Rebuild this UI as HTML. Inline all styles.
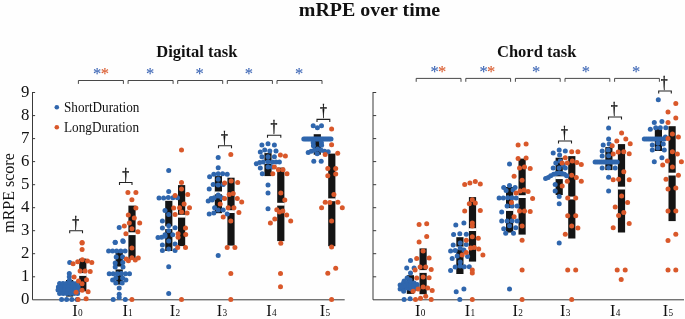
<!DOCTYPE html>
<html><head><meta charset="utf-8"><title>mRPE over time</title>
<style>html,body{margin:0;padding:0;background:#fefefe}</style></head>
<body>
<svg width="685" height="319" viewBox="0 0 685 319" style="display:block">
<rect width="685" height="319" fill="#fefefe"/>
<g font-family="'Liberation Serif', serif" fill="#111">
<text x="298.8" y="16.2" font-size="19.6" font-weight="bold" textLength="141.4" lengthAdjust="spacingAndGlyphs">mRPE over time</text>
<text x="196.8" y="57.4" font-size="16.5" font-weight="bold" text-anchor="middle">Digital task</text>
<text x="536.7" y="57.4" font-size="16.5" font-weight="bold" text-anchor="middle">Chord task</text>
<text transform="translate(13.9,193) rotate(-90)" font-size="16" text-anchor="middle">mRPE score</text>
<text x="29.4" y="303.9" font-size="16.8" text-anchor="end">0</text>
<text x="29.4" y="280.9" font-size="16.8" text-anchor="end">1</text>
<text x="29.4" y="257.8" font-size="16.8" text-anchor="end">2</text>
<text x="29.4" y="234.8" font-size="16.8" text-anchor="end">3</text>
<text x="29.4" y="211.8" font-size="16.8" text-anchor="end">4</text>
<text x="29.4" y="188.8" font-size="16.8" text-anchor="end">5</text>
<text x="29.4" y="165.7" font-size="16.8" text-anchor="end">6</text>
<text x="29.4" y="142.7" font-size="16.8" text-anchor="end">7</text>
<text x="29.4" y="119.7" font-size="16.8" text-anchor="end">8</text>
<text x="29.4" y="96.6" font-size="16.8" text-anchor="end">9</text>
<text x="64" y="111.5" font-size="13.8" textLength="75.4" lengthAdjust="spacingAndGlyphs">ShortDuration</text>
<text x="64" y="131.5" font-size="13.8" textLength="75" lengthAdjust="spacingAndGlyphs">LongDuration</text>
</g>
<circle cx="56.8" cy="107.2" r="2.3" fill="#2f66ad"/>
<circle cx="56.8" cy="127.3" r="2.3" fill="#d9582a"/>
<g stroke="#3a3a3a" stroke-width="1" fill="none">
<path d="M32.5 92.0V299.8H344.7"/>
<path d="M32.5 276.8h2.6"/>
<path d="M32.5 253.7h2.6"/>
<path d="M32.5 230.7h2.6"/>
<path d="M32.5 207.7h2.6"/>
<path d="M32.5 184.7h2.6"/>
<path d="M32.5 161.6h2.6"/>
<path d="M32.5 138.6h2.6"/>
<path d="M32.5 115.6h2.6"/>
<path d="M32.5 92.5h2.6"/>
</g>
<g font-family="'Liberation Serif', serif" fill="#111">
<text x="72.2" y="316.2" font-size="16.3">I<tspan font-size="9.3" dx="0.3">0</tspan></text>
<text x="122.4" y="316.2" font-size="16.3">I<tspan font-size="9.3" dx="0.3">1</tspan></text>
<text x="169.7" y="316.2" font-size="16.3">I<tspan font-size="9.3" dx="0.3">2</tspan></text>
<text x="216.7" y="316.2" font-size="16.3">I<tspan font-size="9.3" dx="0.3">3</tspan></text>
<text x="266.2" y="316.2" font-size="16.3">I<tspan font-size="9.3" dx="0.3">4</tspan></text>
<text x="319.7" y="316.2" font-size="16.3">I<tspan font-size="9.3" dx="0.3">5</tspan></text>
</g>
<g stroke="#333" stroke-width="0.9" fill="none">
<path d="M78.4 83.9V80.5H123.4V83.9"/>
<path d="M128.1 83.9V80.5H173.1V83.9"/>
<path d="M177.7 83.9V80.5H222.7V83.9"/>
<path d="M227.3 83.9V80.5H272.4V83.9"/>
<path d="M277.0 83.9V80.5H322.0V83.9"/>
</g>
<g font-family="'Liberation Serif', serif" font-size="16.5" text-anchor="middle" stroke-width="0.1">
<text x="97.0" y="79.4" fill="#3a64b4" stroke="#3a64b4">*</text>
<text x="104.8" y="79.4" fill="#d9582a" stroke="#d9582a">*</text>
<text x="150.0" y="79.4" fill="#3a64b4" stroke="#3a64b4">*</text>
<text x="199.5" y="79.4" fill="#3a64b4" stroke="#3a64b4">*</text>
<text x="248.8" y="79.4" fill="#3a64b4" stroke="#3a64b4">*</text>
<text x="299.0" y="79.4" fill="#3a64b4" stroke="#3a64b4">*</text>
</g>
<path d="M69.7 233.3V230.8H82.5V233.3" stroke="#222" stroke-width="1.1" fill="none"/>
<text transform="translate(75.8,227.8) scale(0.85,1)" font-family="'Liberation Serif', serif" font-size="16.2" stroke="#111" stroke-width="0.4" text-anchor="middle" fill="#111">†</text>
<path d="M119.5 185.0V182.5H132.0V185.0" stroke="#222" stroke-width="1.1" fill="none"/>
<text transform="translate(125.6,179.5) scale(0.85,1)" font-family="'Liberation Serif', serif" font-size="16.2" stroke="#111" stroke-width="0.4" text-anchor="middle" fill="#111">†</text>
<path d="M218.5 148.3V145.8H231.5V148.3" stroke="#222" stroke-width="1.1" fill="none"/>
<text transform="translate(224.5,142.8) scale(0.85,1)" font-family="'Liberation Serif', serif" font-size="16.2" stroke="#111" stroke-width="0.4" text-anchor="middle" fill="#111">†</text>
<path d="M267.5 137.8V135.3H280.8V137.8" stroke="#222" stroke-width="1.1" fill="none"/>
<text transform="translate(273.9,132.3) scale(0.85,1)" font-family="'Liberation Serif', serif" font-size="16.2" stroke="#111" stroke-width="0.4" text-anchor="middle" fill="#111">†</text>
<path d="M317.0 121.9V119.4H329.8V121.9" stroke="#222" stroke-width="1.1" fill="none"/>
<text transform="translate(323.4,116.4) scale(0.85,1)" font-family="'Liberation Serif', serif" font-size="16.2" stroke="#111" stroke-width="0.4" text-anchor="middle" fill="#111">†</text>
<rect x="66.0" y="280.0" width="7.2" height="16.6" fill="#141414"/>
<rect x="65.7" y="287.3" width="7.8" height="2.8" fill="#fff"/>
<rect x="79.2" y="258.6" width="7.2" height="32.7" fill="#141414"/>
<rect x="78.9" y="273.1" width="7.8" height="2.8" fill="#fff"/>
<rect x="115.6" y="252.1" width="7.2" height="32.5" fill="#141414"/>
<rect x="115.3" y="266.6" width="7.8" height="2.8" fill="#fff"/>
<rect x="128.4" y="205.6" width="7.2" height="54.4" fill="#141414"/>
<rect x="128.1" y="232.3" width="7.8" height="2.8" fill="#fff"/>
<rect x="165.2" y="200.8" width="7.2" height="50.2" fill="#141414"/>
<rect x="164.9" y="226.3" width="7.8" height="2.8" fill="#fff"/>
<rect x="178.0" y="185.1" width="7.2" height="61.0" fill="#141414"/>
<rect x="177.7" y="214.8" width="7.8" height="2.8" fill="#fff"/>
<rect x="214.8" y="176.1" width="7.2" height="37.1" fill="#141414"/>
<rect x="214.5" y="191.5" width="7.8" height="2.8" fill="#fff"/>
<rect x="227.4" y="177.7" width="7.2" height="67.9" fill="#141414"/>
<rect x="227.1" y="210.2" width="7.8" height="2.8" fill="#fff"/>
<rect x="264.4" y="153.1" width="7.2" height="23.0" fill="#141414"/>
<rect x="264.1" y="161.1" width="7.8" height="2.8" fill="#fff"/>
<rect x="277.2" y="167.6" width="7.2" height="73.5" fill="#141414"/>
<rect x="276.9" y="202.8" width="7.8" height="2.8" fill="#fff"/>
<rect x="313.7" y="134.2" width="7.2" height="20.5" fill="#141414"/>
<rect x="313.4" y="137.2" width="7.8" height="2.8" fill="#fff"/>
<rect x="328.2" y="153.6" width="7.2" height="92.6" fill="#141414"/>
<rect x="327.9" y="198.4" width="7.8" height="2.8" fill="#fff"/>
<g fill="#2f66ad">
<circle cx="69.7" cy="262.5" r="2.5"/>
<circle cx="69.3" cy="273.4" r="2.5"/>
<circle cx="69.3" cy="276.8" r="2.5"/>
<circle cx="69.4" cy="280.2" r="2.5"/>
<circle cx="59.6" cy="283.6" r="2.5"/>
<circle cx="63.0" cy="283.6" r="2.5"/>
<circle cx="66.4" cy="283.6" r="2.5"/>
<circle cx="69.8" cy="283.6" r="2.5"/>
<circle cx="73.2" cy="283.6" r="2.5"/>
<circle cx="76.6" cy="283.6" r="2.5"/>
<circle cx="58.4" cy="287.0" r="2.5"/>
<circle cx="61.7" cy="287.0" r="2.5"/>
<circle cx="65.0" cy="287.0" r="2.5"/>
<circle cx="68.3" cy="287.0" r="2.5"/>
<circle cx="71.6" cy="287.0" r="2.5"/>
<circle cx="74.9" cy="287.0" r="2.5"/>
<circle cx="78.2" cy="287.0" r="2.5"/>
<circle cx="58.0" cy="290.1" r="2.5"/>
<circle cx="61.4" cy="290.1" r="2.5"/>
<circle cx="64.8" cy="290.1" r="2.5"/>
<circle cx="68.2" cy="290.1" r="2.5"/>
<circle cx="71.6" cy="290.1" r="2.5"/>
<circle cx="75.0" cy="290.1" r="2.5"/>
<circle cx="78.4" cy="290.1" r="2.5"/>
<circle cx="59.6" cy="293.4" r="2.5"/>
<circle cx="63.2" cy="293.4" r="2.5"/>
<circle cx="66.8" cy="293.4" r="2.5"/>
<circle cx="70.4" cy="293.4" r="2.5"/>
<circle cx="74.0" cy="293.4" r="2.5"/>
<circle cx="77.6" cy="293.4" r="2.5"/>
<circle cx="61.6" cy="299.6" r="2.5"/>
<circle cx="66.6" cy="299.6" r="2.5"/>
<circle cx="71.8" cy="299.6" r="2.5"/>
<circle cx="77.1" cy="299.6" r="2.5"/>
</g>
<g fill="#d9582a">
<circle cx="82.3" cy="259.7" r="2.5"/>
<circle cx="82.1" cy="243.0" r="2.5"/>
<circle cx="82.1" cy="249.4" r="2.5"/>
<circle cx="73.1" cy="263.7" r="2.5"/>
<circle cx="77.7" cy="261.7" r="2.5"/>
<circle cx="87.5" cy="261.1" r="2.5"/>
<circle cx="91.8" cy="262.5" r="2.5"/>
<circle cx="80.1" cy="271.1" r="2.5"/>
<circle cx="85.1" cy="271.1" r="2.5"/>
<circle cx="90.2" cy="271.5" r="2.5"/>
<circle cx="74.1" cy="277.1" r="2.5"/>
<circle cx="78.5" cy="281.1" r="2.5"/>
<circle cx="86.5" cy="279.7" r="2.5"/>
<circle cx="82.1" cy="283.7" r="2.5"/>
<circle cx="76.1" cy="292.2" r="2.5"/>
<circle cx="82.1" cy="290.2" r="2.5"/>
<circle cx="88.1" cy="291.8" r="2.5"/>
<circle cx="78.1" cy="299.6" r="2.5"/>
<circle cx="86.1" cy="298.8" r="2.5"/>
<circle cx="82.1" cy="242.6" r="2.5"/>
</g>
<g fill="#2f66ad">
<circle cx="115.2" cy="242.4" r="2.5"/>
<circle cx="123.2" cy="241.6" r="2.5"/>
<circle cx="108.6" cy="251.0" r="2.5"/>
<circle cx="112.6" cy="251.0" r="2.5"/>
<circle cx="116.6" cy="251.0" r="2.5"/>
<circle cx="120.8" cy="251.0" r="2.5"/>
<circle cx="125.1" cy="251.0" r="2.5"/>
<circle cx="116.2" cy="257.1" r="2.5"/>
<circle cx="122.6" cy="257.1" r="2.5"/>
<circle cx="115.2" cy="263.1" r="2.5"/>
<circle cx="122.8" cy="262.5" r="2.5"/>
<circle cx="115.2" cy="267.1" r="2.5"/>
<circle cx="123.0" cy="267.1" r="2.5"/>
<circle cx="109.2" cy="273.7" r="2.5"/>
<circle cx="113.2" cy="273.7" r="2.5"/>
<circle cx="117.4" cy="273.7" r="2.5"/>
<circle cx="121.4" cy="273.5" r="2.5"/>
<circle cx="125.5" cy="273.7" r="2.5"/>
<circle cx="129.5" cy="273.7" r="2.5"/>
<circle cx="112.6" cy="280.1" r="2.5"/>
<circle cx="115.8" cy="278.1" r="2.5"/>
<circle cx="122.6" cy="278.1" r="2.5"/>
<circle cx="125.9" cy="280.1" r="2.5"/>
<circle cx="115.8" cy="283.1" r="2.5"/>
<circle cx="122.2" cy="283.1" r="2.5"/>
<circle cx="119.2" cy="288.1" r="2.5"/>
<circle cx="119.2" cy="294.2" r="2.5"/>
<circle cx="113.2" cy="299.6" r="2.5"/>
<circle cx="119.2" cy="297.6" r="2.5"/>
<circle cx="125.3" cy="299.6" r="2.5"/>
<circle cx="119.2" cy="227.5" r="2.5"/>
<circle cx="115.2" cy="242.2" r="2.5"/>
<circle cx="122.8" cy="240.8" r="2.5"/>
</g>
<g fill="#d9582a">
<circle cx="128.4" cy="260.8" r="2.5"/>
<circle cx="131.9" cy="299.6" r="2.5"/>
<circle cx="126.3" cy="259.1" r="2.5"/>
<circle cx="131.9" cy="257.7" r="2.5"/>
<circle cx="131.9" cy="248.0" r="2.5"/>
<circle cx="135.3" cy="260.1" r="2.5"/>
<circle cx="138.3" cy="258.1" r="2.5"/>
<circle cx="127.9" cy="192.4" r="2.5"/>
<circle cx="135.9" cy="192.4" r="2.5"/>
<circle cx="131.9" cy="199.7" r="2.5"/>
<circle cx="135.9" cy="208.1" r="2.5"/>
<circle cx="128.3" cy="215.1" r="2.5"/>
<circle cx="134.3" cy="218.1" r="2.5"/>
<circle cx="139.7" cy="223.1" r="2.5"/>
<circle cx="129.3" cy="223.1" r="2.5"/>
<circle cx="124.3" cy="226.1" r="2.5"/>
<circle cx="131.9" cy="228.7" r="2.5"/>
<circle cx="137.9" cy="231.8" r="2.5"/>
<circle cx="125.9" cy="233.8" r="2.5"/>
</g>
<g fill="#2f66ad">
<circle cx="168.7" cy="170.4" r="2.5"/>
<circle cx="168.7" cy="191.6" r="2.5"/>
<circle cx="159.0" cy="198.1" r="2.5"/>
<circle cx="163.6" cy="197.9" r="2.5"/>
<circle cx="168.3" cy="197.5" r="2.5"/>
<circle cx="172.9" cy="197.7" r="2.5"/>
<circle cx="177.5" cy="197.7" r="2.5"/>
<circle cx="165.0" cy="210.5" r="2.5"/>
<circle cx="168.7" cy="214.5" r="2.5"/>
<circle cx="162.4" cy="221.1" r="2.5"/>
<circle cx="168.7" cy="225.7" r="2.5"/>
<circle cx="162.4" cy="228.1" r="2.5"/>
<circle cx="175.1" cy="227.7" r="2.5"/>
<circle cx="168.7" cy="230.8" r="2.5"/>
<circle cx="165.0" cy="234.8" r="2.5"/>
<circle cx="172.7" cy="234.8" r="2.5"/>
<circle cx="158.0" cy="237.6" r="2.5"/>
<circle cx="161.6" cy="237.2" r="2.5"/>
<circle cx="165.0" cy="236.2" r="2.5"/>
<circle cx="168.7" cy="241.0" r="2.5"/>
<circle cx="162.4" cy="245.0" r="2.5"/>
<circle cx="175.1" cy="244.0" r="2.5"/>
<circle cx="168.7" cy="249.0" r="2.5"/>
<circle cx="162.4" cy="250.4" r="2.5"/>
<circle cx="175.1" cy="250.4" r="2.5"/>
<circle cx="168.7" cy="266.7" r="2.5"/>
<circle cx="168.7" cy="293.6" r="2.5"/>
</g>
<g fill="#d9582a">
<circle cx="181.5" cy="150.1" r="2.5"/>
<circle cx="181.5" cy="182.4" r="2.5"/>
<circle cx="181.5" cy="189.0" r="2.5"/>
<circle cx="175.1" cy="195.6" r="2.5"/>
<circle cx="187.7" cy="194.4" r="2.5"/>
<circle cx="184.1" cy="204.1" r="2.5"/>
<circle cx="173.7" cy="208.1" r="2.5"/>
<circle cx="179.5" cy="207.7" r="2.5"/>
<circle cx="189.5" cy="207.7" r="2.5"/>
<circle cx="175.1" cy="214.5" r="2.5"/>
<circle cx="181.5" cy="212.1" r="2.5"/>
<circle cx="187.1" cy="213.1" r="2.5"/>
<circle cx="185.5" cy="228.1" r="2.5"/>
<circle cx="178.1" cy="233.8" r="2.5"/>
<circle cx="185.7" cy="234.6" r="2.5"/>
<circle cx="178.1" cy="237.2" r="2.5"/>
<circle cx="177.7" cy="247.6" r="2.5"/>
<circle cx="185.5" cy="247.6" r="2.5"/>
<circle cx="181.5" cy="299.6" r="2.5"/>
</g>
<g fill="#2f66ad">
<circle cx="218.2" cy="157.5" r="2.5"/>
<circle cx="218.2" cy="167.7" r="2.5"/>
<circle cx="209.6" cy="176.8" r="2.5"/>
<circle cx="213.8" cy="174.2" r="2.5"/>
<circle cx="218.2" cy="173.8" r="2.5"/>
<circle cx="222.6" cy="173.8" r="2.5"/>
<circle cx="227.2" cy="174.2" r="2.5"/>
<circle cx="218.2" cy="179.2" r="2.5"/>
<circle cx="213.2" cy="184.4" r="2.5"/>
<circle cx="218.2" cy="185.0" r="2.5"/>
<circle cx="223.2" cy="184.4" r="2.5"/>
<circle cx="209.2" cy="189.0" r="2.5"/>
<circle cx="218.2" cy="195.0" r="2.5"/>
<circle cx="211.2" cy="198.5" r="2.5"/>
<circle cx="214.2" cy="197.7" r="2.5"/>
<circle cx="218.2" cy="196.0" r="2.5"/>
<circle cx="221.8" cy="197.7" r="2.5"/>
<circle cx="208.2" cy="201.1" r="2.5"/>
<circle cx="212.2" cy="200.1" r="2.5"/>
<circle cx="214.6" cy="207.7" r="2.5"/>
<circle cx="218.2" cy="210.1" r="2.5"/>
<circle cx="223.2" cy="210.1" r="2.5"/>
<circle cx="209.2" cy="214.1" r="2.5"/>
<circle cx="213.8" cy="213.1" r="2.5"/>
<circle cx="227.2" cy="214.1" r="2.5"/>
<circle cx="218.2" cy="255.6" r="2.5"/>
</g>
<g fill="#d9582a">
<circle cx="230.8" cy="154.5" r="2.5"/>
<circle cx="224.6" cy="183.0" r="2.5"/>
<circle cx="231.2" cy="181.0" r="2.5"/>
<circle cx="237.7" cy="182.4" r="2.5"/>
<circle cx="229.2" cy="194.4" r="2.5"/>
<circle cx="233.2" cy="193.6" r="2.5"/>
<circle cx="224.6" cy="198.5" r="2.5"/>
<circle cx="237.3" cy="198.5" r="2.5"/>
<circle cx="241.7" cy="202.1" r="2.5"/>
<circle cx="220.2" cy="204.1" r="2.5"/>
<circle cx="228.2" cy="207.7" r="2.5"/>
<circle cx="233.9" cy="207.7" r="2.5"/>
<circle cx="238.9" cy="212.5" r="2.5"/>
<circle cx="223.2" cy="217.1" r="2.5"/>
<circle cx="230.8" cy="221.1" r="2.5"/>
<circle cx="227.2" cy="247.6" r="2.5"/>
<circle cx="234.9" cy="247.6" r="2.5"/>
<circle cx="230.8" cy="273.5" r="2.5"/>
<circle cx="230.8" cy="299.6" r="2.5"/>
</g>
<g fill="#2f66ad">
<circle cx="261.9" cy="145.1" r="2.5"/>
<circle cx="268.0" cy="143.7" r="2.5"/>
<circle cx="274.4" cy="145.1" r="2.5"/>
<circle cx="260.3" cy="152.1" r="2.5"/>
<circle cx="264.7" cy="150.1" r="2.5"/>
<circle cx="269.8" cy="151.1" r="2.5"/>
<circle cx="276.0" cy="151.1" r="2.5"/>
<circle cx="261.9" cy="156.7" r="2.5"/>
<circle cx="268.0" cy="156.7" r="2.5"/>
<circle cx="274.4" cy="156.7" r="2.5"/>
<circle cx="256.3" cy="163.7" r="2.5"/>
<circle cx="259.7" cy="162.5" r="2.5"/>
<circle cx="263.3" cy="162.1" r="2.5"/>
<circle cx="268.0" cy="161.7" r="2.5"/>
<circle cx="272.4" cy="162.1" r="2.5"/>
<circle cx="276.0" cy="162.1" r="2.5"/>
<circle cx="279.4" cy="162.1" r="2.5"/>
<circle cx="260.3" cy="168.1" r="2.5"/>
<circle cx="268.0" cy="167.1" r="2.5"/>
<circle cx="272.4" cy="167.1" r="2.5"/>
<circle cx="262.3" cy="173.8" r="2.5"/>
<circle cx="268.0" cy="185.0" r="2.5"/>
<circle cx="268.0" cy="193.0" r="2.5"/>
<circle cx="268.0" cy="208.7" r="2.5"/>
</g>
<g fill="#d9582a">
<circle cx="280.4" cy="155.1" r="2.5"/>
<circle cx="285.4" cy="156.1" r="2.5"/>
<circle cx="274.4" cy="167.1" r="2.5"/>
<circle cx="278.4" cy="169.7" r="2.5"/>
<circle cx="283.0" cy="169.7" r="2.5"/>
<circle cx="272.8" cy="173.8" r="2.5"/>
<circle cx="287.0" cy="173.8" r="2.5"/>
<circle cx="280.8" cy="193.0" r="2.5"/>
<circle cx="284.8" cy="200.1" r="2.5"/>
<circle cx="276.8" cy="209.7" r="2.5"/>
<circle cx="279.4" cy="212.1" r="2.5"/>
<circle cx="282.8" cy="211.1" r="2.5"/>
<circle cx="274.8" cy="219.1" r="2.5"/>
<circle cx="270.4" cy="223.1" r="2.5"/>
<circle cx="280.8" cy="243.2" r="2.5"/>
<circle cx="286.7" cy="215.0" r="2.5"/>
<circle cx="290.7" cy="221.0" r="2.5"/>
<circle cx="280.5" cy="273.5" r="2.5"/>
<circle cx="280.5" cy="286.7" r="2.5"/>
</g>
<g fill="#2f66ad">
<circle cx="313.2" cy="125.7" r="2.5"/>
<circle cx="317.4" cy="127.7" r="2.5"/>
<circle cx="321.5" cy="125.7" r="2.5"/>
<circle cx="303.8" cy="139.1" r="2.5"/>
<circle cx="305.4" cy="139.1" r="2.5"/>
<circle cx="307.0" cy="139.1" r="2.5"/>
<circle cx="308.6" cy="139.1" r="2.5"/>
<circle cx="310.2" cy="139.1" r="2.5"/>
<circle cx="311.8" cy="139.1" r="2.5"/>
<circle cx="313.4" cy="139.1" r="2.5"/>
<circle cx="315.0" cy="139.1" r="2.5"/>
<circle cx="316.6" cy="139.1" r="2.5"/>
<circle cx="318.2" cy="139.1" r="2.5"/>
<circle cx="319.8" cy="139.1" r="2.5"/>
<circle cx="321.4" cy="139.1" r="2.5"/>
<circle cx="323.0" cy="139.1" r="2.5"/>
<circle cx="324.6" cy="139.1" r="2.5"/>
<circle cx="326.2" cy="139.1" r="2.5"/>
<circle cx="327.8" cy="139.1" r="2.5"/>
<circle cx="329.4" cy="139.1" r="2.5"/>
<circle cx="331.0" cy="139.1" r="2.5"/>
<circle cx="308.2" cy="152.6" r="2.5"/>
<circle cx="311.2" cy="151.2" r="2.5"/>
<circle cx="314.2" cy="150.2" r="2.5"/>
<circle cx="317.6" cy="149.1" r="2.5"/>
<circle cx="321.2" cy="150.2" r="2.5"/>
<circle cx="324.6" cy="151.2" r="2.5"/>
<circle cx="328.2" cy="151.8" r="2.5"/>
<circle cx="317.2" cy="153.8" r="2.5"/>
<circle cx="313.8" cy="161.2" r="2.5"/>
<circle cx="321.2" cy="161.2" r="2.5"/>
<circle cx="313.2" cy="142.8" r="2.5"/>
<circle cx="321.4" cy="142.8" r="2.5"/>
<circle cx="313.4" cy="145.8" r="2.5"/>
<circle cx="321.6" cy="145.2" r="2.5"/>
</g>
<g fill="#d9582a">
<circle cx="331.6" cy="129.1" r="2.5"/>
<circle cx="331.6" cy="144.7" r="2.5"/>
<circle cx="337.7" cy="153.2" r="2.5"/>
<circle cx="325.2" cy="154.6" r="2.5"/>
<circle cx="327.8" cy="168.5" r="2.5"/>
<circle cx="335.7" cy="168.5" r="2.5"/>
<circle cx="327.8" cy="175.7" r="2.5"/>
<circle cx="335.7" cy="174.1" r="2.5"/>
<circle cx="333.9" cy="194.5" r="2.5"/>
<circle cx="325.2" cy="202.2" r="2.5"/>
<circle cx="329.8" cy="202.6" r="2.5"/>
<circle cx="337.9" cy="202.2" r="2.5"/>
<circle cx="321.6" cy="207.8" r="2.5"/>
<circle cx="342.3" cy="207.8" r="2.5"/>
<circle cx="331.6" cy="221.0" r="2.5"/>
<circle cx="331.6" cy="247.1" r="2.5"/>
<circle cx="335.7" cy="268.2" r="2.5"/>
<circle cx="327.8" cy="273.2" r="2.5"/>
<circle cx="331.6" cy="299.5" r="2.5"/>
</g>
<g stroke="#3a3a3a" stroke-width="1" fill="none">
<path d="M373.0 92.0V299.8H684"/>
<path d="M373.0 276.8h3.2"/>
<path d="M373.0 253.7h3.2"/>
<path d="M373.0 230.7h3.2"/>
<path d="M373.0 207.7h3.2"/>
<path d="M373.0 184.7h3.2"/>
<path d="M373.0 161.6h3.2"/>
<path d="M373.0 138.6h3.2"/>
<path d="M373.0 115.6h3.2"/>
<path d="M373.0 92.5h3.2"/>
</g>
<g font-family="'Liberation Serif', serif" fill="#111">
<text x="415.1" y="316.2" font-size="16.3">I<tspan font-size="9.3" dx="0.3">0</tspan></text>
<text x="464.8" y="316.2" font-size="16.3">I<tspan font-size="9.3" dx="0.3">1</tspan></text>
<text x="512.6" y="316.2" font-size="16.3">I<tspan font-size="9.3" dx="0.3">2</tspan></text>
<text x="560.0" y="316.2" font-size="16.3">I<tspan font-size="9.3" dx="0.3">3</tspan></text>
<text x="610.0" y="316.2" font-size="16.3">I<tspan font-size="9.3" dx="0.3">4</tspan></text>
<text x="662.8" y="316.2" font-size="16.3">I<tspan font-size="9.3" dx="0.3">5</tspan></text>
</g>
<g stroke="#333" stroke-width="0.9" fill="none">
<path d="M416.2 81.8V78.4H461.0V81.8"/>
<path d="M465.8 81.8V78.4H510.6V81.8"/>
<path d="M515.4 81.8V78.4H560.2V81.8"/>
<path d="M565.0 81.8V78.4H609.8V81.8"/>
<path d="M614.6 81.8V78.4H659.4V81.8"/>
</g>
<g font-family="'Liberation Serif', serif" font-size="16.5" text-anchor="middle" stroke-width="0.1">
<text x="434.7" y="77.4" fill="#3a64b4" stroke="#3a64b4">*</text>
<text x="442.2" y="77.4" fill="#d9582a" stroke="#d9582a">*</text>
<text x="483.7" y="77.4" fill="#3a64b4" stroke="#3a64b4">*</text>
<text x="491.2" y="77.4" fill="#d9582a" stroke="#d9582a">*</text>
<text x="536.1" y="77.4" fill="#3a64b4" stroke="#3a64b4">*</text>
<text x="585.9" y="77.4" fill="#3a64b4" stroke="#3a64b4">*</text>
<text x="636.1" y="77.4" fill="#3a64b4" stroke="#3a64b4">*</text>
</g>
<path d="M558.5 143.5V141.0H571.5V143.5" stroke="#222" stroke-width="1.1" fill="none"/>
<text transform="translate(564.5,138.0) scale(0.85,1)" font-family="'Liberation Serif', serif" font-size="16.2" stroke="#111" stroke-width="0.4" text-anchor="middle" fill="#111">†</text>
<path d="M608.5 119.5V117.0H621.5V119.5" stroke="#222" stroke-width="1.1" fill="none"/>
<text transform="translate(614.3,114.0) scale(0.85,1)" font-family="'Liberation Serif', serif" font-size="16.2" stroke="#111" stroke-width="0.4" text-anchor="middle" fill="#111">†</text>
<path d="M658.7 93.5V91.0H671.3V93.5" stroke="#222" stroke-width="1.1" fill="none"/>
<text transform="translate(664.3,88.0) scale(0.85,1)" font-family="'Liberation Serif', serif" font-size="16.2" stroke="#111" stroke-width="0.4" text-anchor="middle" fill="#111">†</text>
<rect x="406.8" y="275.2" width="7.2" height="18.7" fill="#141414"/>
<rect x="406.5" y="285.7" width="7.8" height="2.8" fill="#fff"/>
<rect x="419.5" y="248.4" width="7.2" height="45.8" fill="#141414"/>
<rect x="419.2" y="270.1" width="7.8" height="2.8" fill="#fff"/>
<rect x="456.3" y="237.2" width="7.2" height="36.8" fill="#141414"/>
<rect x="456.0" y="246.6" width="7.8" height="2.8" fill="#fff"/>
<rect x="468.9" y="197.1" width="7.2" height="64.5" fill="#141414"/>
<rect x="468.6" y="228.2" width="7.8" height="2.8" fill="#fff"/>
<rect x="506.0" y="187.0" width="7.2" height="45.6" fill="#141414"/>
<rect x="505.7" y="208.1" width="7.8" height="2.8" fill="#fff"/>
<rect x="518.5" y="158.6" width="7.2" height="76.0" fill="#141414"/>
<rect x="518.2" y="195.2" width="7.8" height="2.8" fill="#fff"/>
<rect x="555.6" y="157.7" width="7.2" height="37.3" fill="#141414"/>
<rect x="555.3" y="176.3" width="7.8" height="2.8" fill="#fff"/>
<rect x="568.2" y="156.1" width="7.2" height="82.4" fill="#141414"/>
<rect x="567.9" y="196.6" width="7.8" height="2.8" fill="#fff"/>
<rect x="605.3" y="147.1" width="7.2" height="23.0" fill="#141414"/>
<rect x="605.0" y="160.7" width="7.8" height="2.8" fill="#fff"/>
<rect x="617.9" y="144.1" width="7.2" height="88.4" fill="#141414"/>
<rect x="617.6" y="186.7" width="7.8" height="2.8" fill="#fff"/>
<rect x="654.8" y="128.2" width="7.2" height="22.8" fill="#141414"/>
<rect x="654.5" y="137.7" width="7.8" height="2.8" fill="#fff"/>
<rect x="668.5" y="126.2" width="7.2" height="94.9" fill="#141414"/>
<rect x="668.2" y="172.7" width="7.8" height="2.8" fill="#fff"/>
<g fill="#2f66ad">
<circle cx="410.5" cy="260.5" r="2.5"/>
<circle cx="406.7" cy="268.1" r="2.5"/>
<circle cx="414.1" cy="268.1" r="2.5"/>
<circle cx="410.5" cy="273.1" r="2.5"/>
<circle cx="407.1" cy="278.1" r="2.5"/>
<circle cx="404.1" cy="281.1" r="2.5"/>
<circle cx="410.1" cy="280.1" r="2.5"/>
<circle cx="400.1" cy="285.1" r="2.5"/>
<circle cx="403.5" cy="283.1" r="2.5"/>
<circle cx="407.1" cy="282.5" r="2.5"/>
<circle cx="410.5" cy="283.1" r="2.5"/>
<circle cx="414.1" cy="283.1" r="2.5"/>
<circle cx="417.1" cy="284.5" r="2.5"/>
<circle cx="400.1" cy="289.1" r="2.5"/>
<circle cx="403.5" cy="288.1" r="2.5"/>
<circle cx="407.1" cy="288.1" r="2.5"/>
<circle cx="410.5" cy="288.7" r="2.5"/>
<circle cx="414.1" cy="289.1" r="2.5"/>
<circle cx="404.1" cy="299.6" r="2.5"/>
<circle cx="410.1" cy="298.8" r="2.5"/>
<circle cx="407.1" cy="285.1" r="2.5"/>
<circle cx="410.5" cy="285.7" r="2.5"/>
<circle cx="404.1" cy="285.7" r="2.5"/>
<circle cx="413.7" cy="286.1" r="2.5"/>
<circle cx="417.1" cy="288.1" r="2.5"/>
<circle cx="401.7" cy="287.1" r="2.5"/>
<circle cx="403.7" cy="291.2" r="2.5"/>
</g>
<g fill="#d9582a">
<circle cx="419.1" cy="242.0" r="2.5"/>
<circle cx="423.1" cy="251.0" r="2.5"/>
<circle cx="416.7" cy="258.5" r="2.5"/>
<circle cx="429.1" cy="258.1" r="2.5"/>
<circle cx="420.1" cy="267.1" r="2.5"/>
<circle cx="425.7" cy="267.1" r="2.5"/>
<circle cx="415.1" cy="270.1" r="2.5"/>
<circle cx="431.2" cy="269.5" r="2.5"/>
<circle cx="416.7" cy="278.1" r="2.5"/>
<circle cx="423.1" cy="277.1" r="2.5"/>
<circle cx="429.1" cy="277.7" r="2.5"/>
<circle cx="423.1" cy="287.1" r="2.5"/>
<circle cx="418.1" cy="289.1" r="2.5"/>
<circle cx="427.7" cy="288.1" r="2.5"/>
<circle cx="413.1" cy="291.2" r="2.5"/>
<circle cx="432.2" cy="290.6" r="2.5"/>
<circle cx="415.5" cy="299.6" r="2.5"/>
<circle cx="420.5" cy="298.2" r="2.5"/>
<circle cx="425.7" cy="296.2" r="2.5"/>
<circle cx="431.2" cy="299.6" r="2.5"/>
<circle cx="419.1" cy="224.5" r="2.5"/>
<circle cx="426.7" cy="223.7" r="2.5"/>
<circle cx="426.7" cy="236.6" r="2.5"/>
</g>
<g fill="#2f66ad">
<circle cx="453.2" cy="245.0" r="2.5"/>
<circle cx="460.2" cy="243.0" r="2.5"/>
<circle cx="466.3" cy="244.4" r="2.5"/>
<circle cx="450.6" cy="251.0" r="2.5"/>
<circle cx="455.2" cy="250.4" r="2.5"/>
<circle cx="460.2" cy="248.0" r="2.5"/>
<circle cx="457.2" cy="256.0" r="2.5"/>
<circle cx="452.2" cy="258.5" r="2.5"/>
<circle cx="460.2" cy="262.1" r="2.5"/>
<circle cx="455.2" cy="267.1" r="2.5"/>
<circle cx="460.2" cy="266.1" r="2.5"/>
<circle cx="464.3" cy="266.7" r="2.5"/>
<circle cx="469.3" cy="266.7" r="2.5"/>
<circle cx="450.6" cy="270.5" r="2.5"/>
<circle cx="456.2" cy="291.8" r="2.5"/>
<circle cx="463.9" cy="289.1" r="2.5"/>
<circle cx="459.8" cy="299.6" r="2.5"/>
<circle cx="455.8" cy="225.1" r="2.5"/>
<circle cx="463.9" cy="223.1" r="2.5"/>
<circle cx="453.6" cy="234.6" r="2.5"/>
<circle cx="459.8" cy="233.8" r="2.5"/>
<circle cx="466.3" cy="234.2" r="2.5"/>
<circle cx="463.9" cy="250.1" r="2.5"/>
<circle cx="467.6" cy="256.4" r="2.5"/>
</g>
<g fill="#d9582a">
<circle cx="470.7" cy="248.0" r="2.5"/>
<circle cx="474.3" cy="247.6" r="2.5"/>
<circle cx="478.7" cy="249.0" r="2.5"/>
<circle cx="466.3" cy="252.4" r="2.5"/>
<circle cx="462.2" cy="255.0" r="2.5"/>
<circle cx="482.9" cy="255.0" r="2.5"/>
<circle cx="472.3" cy="270.1" r="2.5"/>
<circle cx="472.3" cy="273.1" r="2.5"/>
<circle cx="472.3" cy="299.6" r="2.5"/>
<circle cx="464.7" cy="184.4" r="2.5"/>
<circle cx="469.9" cy="183.0" r="2.5"/>
<circle cx="475.3" cy="181.6" r="2.5"/>
<circle cx="480.3" cy="184.0" r="2.5"/>
<circle cx="472.3" cy="199.7" r="2.5"/>
<circle cx="469.3" cy="203.7" r="2.5"/>
<circle cx="475.3" cy="203.1" r="2.5"/>
<circle cx="464.7" cy="211.1" r="2.5"/>
<circle cx="480.3" cy="210.5" r="2.5"/>
<circle cx="472.3" cy="223.1" r="2.5"/>
<circle cx="472.3" cy="226.1" r="2.5"/>
<circle cx="472.3" cy="236.8" r="2.5"/>
<circle cx="478.3" cy="238.2" r="2.5"/>
<circle cx="466.3" cy="240.2" r="2.5"/>
</g>
<g fill="#2f66ad">
<circle cx="509.5" cy="164.1" r="2.5"/>
<circle cx="503.7" cy="187.6" r="2.5"/>
<circle cx="509.5" cy="185.6" r="2.5"/>
<circle cx="515.1" cy="187.6" r="2.5"/>
<circle cx="506.1" cy="190.4" r="2.5"/>
<circle cx="513.1" cy="190.0" r="2.5"/>
<circle cx="499.1" cy="198.1" r="2.5"/>
<circle cx="503.3" cy="198.1" r="2.5"/>
<circle cx="507.7" cy="197.7" r="2.5"/>
<circle cx="511.9" cy="197.7" r="2.5"/>
<circle cx="516.1" cy="198.1" r="2.5"/>
<circle cx="507.1" cy="206.1" r="2.5"/>
<circle cx="512.1" cy="206.1" r="2.5"/>
<circle cx="517.1" cy="206.1" r="2.5"/>
<circle cx="501.7" cy="212.1" r="2.5"/>
<circle cx="501.7" cy="221.1" r="2.5"/>
<circle cx="507.1" cy="221.1" r="2.5"/>
<circle cx="512.1" cy="220.7" r="2.5"/>
<circle cx="517.1" cy="221.1" r="2.5"/>
<circle cx="509.5" cy="225.7" r="2.5"/>
<circle cx="503.7" cy="228.7" r="2.5"/>
<circle cx="515.7" cy="227.7" r="2.5"/>
<circle cx="505.7" cy="233.2" r="2.5"/>
<circle cx="513.5" cy="233.2" r="2.5"/>
<circle cx="509.5" cy="289.1" r="2.5"/>
</g>
<g fill="#d9582a">
<circle cx="518.1" cy="145.1" r="2.5"/>
<circle cx="526.1" cy="144.1" r="2.5"/>
<circle cx="518.1" cy="158.5" r="2.5"/>
<circle cx="526.1" cy="158.1" r="2.5"/>
<circle cx="519.5" cy="168.1" r="2.5"/>
<circle cx="524.5" cy="167.1" r="2.5"/>
<circle cx="530.2" cy="168.5" r="2.5"/>
<circle cx="514.1" cy="176.2" r="2.5"/>
<circle cx="522.1" cy="180.2" r="2.5"/>
<circle cx="516.1" cy="193.0" r="2.5"/>
<circle cx="520.1" cy="191.0" r="2.5"/>
<circle cx="524.1" cy="190.0" r="2.5"/>
<circle cx="528.1" cy="191.6" r="2.5"/>
<circle cx="532.6" cy="198.5" r="2.5"/>
<circle cx="511.5" cy="202.5" r="2.5"/>
<circle cx="519.5" cy="211.1" r="2.5"/>
<circle cx="524.5" cy="211.1" r="2.5"/>
<circle cx="530.2" cy="211.5" r="2.5"/>
<circle cx="514.1" cy="216.7" r="2.5"/>
<circle cx="522.1" cy="226.1" r="2.5"/>
<circle cx="522.1" cy="240.2" r="2.5"/>
<circle cx="522.1" cy="270.1" r="2.5"/>
<circle cx="522.1" cy="299.6" r="2.5"/>
</g>
<g fill="#2f66ad">
<circle cx="559.2" cy="150.1" r="2.5"/>
<circle cx="565.3" cy="151.1" r="2.5"/>
<circle cx="553.2" cy="153.1" r="2.5"/>
<circle cx="559.6" cy="155.1" r="2.5"/>
<circle cx="555.8" cy="163.1" r="2.5"/>
<circle cx="560.2" cy="161.1" r="2.5"/>
<circle cx="563.2" cy="165.1" r="2.5"/>
<circle cx="553.2" cy="168.1" r="2.5"/>
<circle cx="559.2" cy="168.1" r="2.5"/>
<circle cx="565.3" cy="168.1" r="2.5"/>
<circle cx="545.6" cy="178.6" r="2.5"/>
<circle cx="548.2" cy="177.4" r="2.5"/>
<circle cx="550.7" cy="175.8" r="2.5"/>
<circle cx="553.6" cy="174.3" r="2.5"/>
<circle cx="556.3" cy="173.4" r="2.5"/>
<circle cx="559.1" cy="173.0" r="2.5"/>
<circle cx="562.0" cy="173.4" r="2.5"/>
<circle cx="564.5" cy="174.3" r="2.5"/>
<circle cx="566.6" cy="175.8" r="2.5"/>
<circle cx="555.2" cy="184.4" r="2.5"/>
<circle cx="555.2" cy="191.0" r="2.5"/>
<circle cx="559.2" cy="196.4" r="2.5"/>
<circle cx="559.2" cy="203.7" r="2.5"/>
<circle cx="559.2" cy="243.0" r="2.5"/>
</g>
<g fill="#d9582a">
<circle cx="571.7" cy="151.7" r="2.5"/>
<circle cx="577.9" cy="151.7" r="2.5"/>
<circle cx="565.3" cy="157.7" r="2.5"/>
<circle cx="562.2" cy="163.1" r="2.5"/>
<circle cx="567.3" cy="163.1" r="2.5"/>
<circle cx="572.3" cy="161.1" r="2.5"/>
<circle cx="576.9" cy="162.5" r="2.5"/>
<circle cx="581.3" cy="164.5" r="2.5"/>
<circle cx="571.7" cy="175.2" r="2.5"/>
<circle cx="576.3" cy="177.6" r="2.5"/>
<circle cx="567.3" cy="181.2" r="2.5"/>
<circle cx="581.3" cy="181.2" r="2.5"/>
<circle cx="562.2" cy="186.0" r="2.5"/>
<circle cx="567.7" cy="198.1" r="2.5"/>
<circle cx="575.7" cy="198.1" r="2.5"/>
<circle cx="567.7" cy="215.7" r="2.5"/>
<circle cx="575.7" cy="215.7" r="2.5"/>
<circle cx="571.7" cy="226.1" r="2.5"/>
<circle cx="577.9" cy="228.1" r="2.5"/>
<circle cx="565.3" cy="234.2" r="2.5"/>
<circle cx="567.7" cy="270.1" r="2.5"/>
<circle cx="575.7" cy="270.1" r="2.5"/>
<circle cx="571.7" cy="299.6" r="2.5"/>
</g>
<g fill="#2f66ad">
<circle cx="608.6" cy="128.0" r="2.5"/>
<circle cx="608.6" cy="139.1" r="2.5"/>
<circle cx="603.2" cy="145.1" r="2.5"/>
<circle cx="609.2" cy="144.1" r="2.5"/>
<circle cx="602.2" cy="151.1" r="2.5"/>
<circle cx="608.2" cy="150.1" r="2.5"/>
<circle cx="602.2" cy="156.1" r="2.5"/>
<circle cx="608.6" cy="155.7" r="2.5"/>
<circle cx="595.1" cy="162.1" r="2.5"/>
<circle cx="597.1" cy="162.1" r="2.5"/>
<circle cx="599.2" cy="162.1" r="2.5"/>
<circle cx="601.2" cy="162.1" r="2.5"/>
<circle cx="603.2" cy="162.1" r="2.5"/>
<circle cx="605.2" cy="162.1" r="2.5"/>
<circle cx="607.2" cy="162.1" r="2.5"/>
<circle cx="609.2" cy="162.1" r="2.5"/>
<circle cx="611.2" cy="162.1" r="2.5"/>
<circle cx="613.2" cy="162.1" r="2.5"/>
<circle cx="615.2" cy="162.1" r="2.5"/>
<circle cx="617.2" cy="162.1" r="2.5"/>
<circle cx="602.2" cy="168.1" r="2.5"/>
<circle cx="608.6" cy="167.7" r="2.5"/>
<circle cx="615.2" cy="168.1" r="2.5"/>
<circle cx="608.6" cy="177.2" r="2.5"/>
<circle cx="608.6" cy="191.0" r="2.5"/>
</g>
<g fill="#d9582a">
<circle cx="621.6" cy="133.0" r="2.5"/>
<circle cx="616.8" cy="141.1" r="2.5"/>
<circle cx="625.8" cy="139.1" r="2.5"/>
<circle cx="630.2" cy="143.7" r="2.5"/>
<circle cx="612.2" cy="145.7" r="2.5"/>
<circle cx="618.2" cy="152.1" r="2.5"/>
<circle cx="623.8" cy="151.7" r="2.5"/>
<circle cx="629.2" cy="153.7" r="2.5"/>
<circle cx="613.2" cy="154.1" r="2.5"/>
<circle cx="623.8" cy="171.8" r="2.5"/>
<circle cx="613.2" cy="179.8" r="2.5"/>
<circle cx="618.6" cy="179.2" r="2.5"/>
<circle cx="629.2" cy="179.8" r="2.5"/>
<circle cx="621.6" cy="196.0" r="2.5"/>
<circle cx="627.6" cy="202.5" r="2.5"/>
<circle cx="615.2" cy="207.1" r="2.5"/>
<circle cx="623.8" cy="212.5" r="2.5"/>
<circle cx="618.6" cy="215.5" r="2.5"/>
<circle cx="629.2" cy="223.5" r="2.5"/>
<circle cx="613.2" cy="227.7" r="2.5"/>
<circle cx="617.2" cy="270.1" r="2.5"/>
<circle cx="625.2" cy="270.1" r="2.5"/>
<circle cx="621.2" cy="279.5" r="2.5"/>
</g>
<g fill="#2f66ad">
<circle cx="658.3" cy="99.7" r="2.5"/>
<circle cx="654.3" cy="122.6" r="2.5"/>
<circle cx="661.9" cy="121.6" r="2.5"/>
<circle cx="650.3" cy="129.2" r="2.5"/>
<circle cx="655.7" cy="127.8" r="2.5"/>
<circle cx="660.3" cy="127.8" r="2.5"/>
<circle cx="665.8" cy="127.8" r="2.5"/>
<circle cx="644.3" cy="139.1" r="2.5"/>
<circle cx="646.3" cy="139.1" r="2.5"/>
<circle cx="648.3" cy="139.1" r="2.5"/>
<circle cx="650.3" cy="139.1" r="2.5"/>
<circle cx="652.3" cy="139.1" r="2.5"/>
<circle cx="654.3" cy="139.1" r="2.5"/>
<circle cx="656.3" cy="139.1" r="2.5"/>
<circle cx="658.3" cy="139.1" r="2.5"/>
<circle cx="660.3" cy="139.1" r="2.5"/>
<circle cx="662.3" cy="139.1" r="2.5"/>
<circle cx="664.3" cy="139.1" r="2.5"/>
<circle cx="665.4" cy="137.1" r="2.5"/>
<circle cx="652.3" cy="145.1" r="2.5"/>
<circle cx="657.9" cy="143.1" r="2.5"/>
<circle cx="663.3" cy="144.1" r="2.5"/>
<circle cx="652.3" cy="150.1" r="2.5"/>
<circle cx="657.9" cy="148.1" r="2.5"/>
<circle cx="664.3" cy="150.1" r="2.5"/>
<circle cx="661.9" cy="157.7" r="2.5"/>
<circle cx="654.3" cy="161.7" r="2.5"/>
</g>
<g fill="#d9582a">
<circle cx="675.8" cy="103.5" r="2.5"/>
<circle cx="668.0" cy="112.1" r="2.5"/>
<circle cx="675.8" cy="118.1" r="2.5"/>
<circle cx="668.0" cy="122.6" r="2.5"/>
<circle cx="672.4" cy="134.0" r="2.5"/>
<circle cx="678.4" cy="137.1" r="2.5"/>
<circle cx="668.0" cy="138.5" r="2.5"/>
<circle cx="672.4" cy="151.7" r="2.5"/>
<circle cx="677.4" cy="154.1" r="2.5"/>
<circle cx="667.4" cy="161.1" r="2.5"/>
<circle cx="681.4" cy="161.7" r="2.5"/>
<circle cx="662.7" cy="165.1" r="2.5"/>
<circle cx="672.4" cy="167.1" r="2.5"/>
<circle cx="678.4" cy="175.2" r="2.5"/>
<circle cx="666.0" cy="179.2" r="2.5"/>
<circle cx="668.0" cy="189.0" r="2.5"/>
<circle cx="675.8" cy="188.0" r="2.5"/>
<circle cx="668.0" cy="211.1" r="2.5"/>
<circle cx="675.8" cy="211.1" r="2.5"/>
<circle cx="675.8" cy="234.2" r="2.5"/>
<circle cx="668.0" cy="240.6" r="2.5"/>
<circle cx="668.0" cy="270.1" r="2.5"/>
<circle cx="675.8" cy="270.1" r="2.5"/>
</g>
</svg>
</body></html>
